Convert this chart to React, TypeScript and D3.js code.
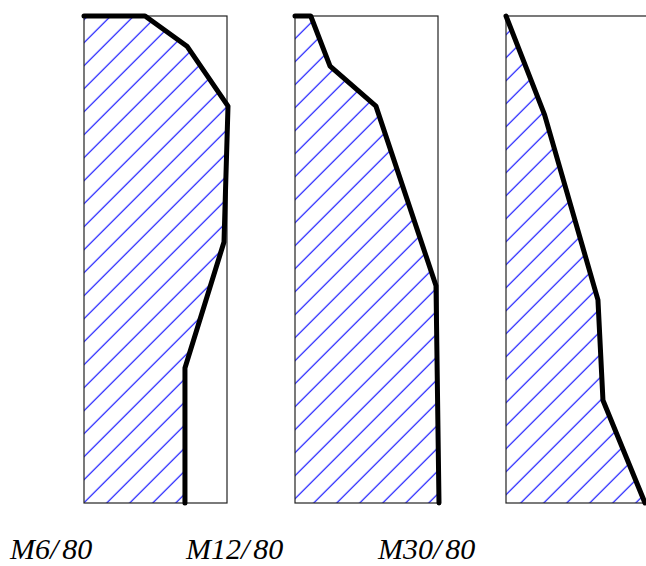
import React from 'react';
import * as d3 from 'd3';

// profile data: x = share of panel width (0-100), y = depth (0 top, 100 bottom)
const labels = ['M6', 'M12', 'M30'];
const suffix = '80';
const profileX = [
  [0, 42.7, 72.0, 100.7, 97.9, 70.6, 70.6],
  [0, 11, 24.5, 56.6, 98.6, 100.7],
  [0, 27, 64.3, 67.8, 97.2],
];
const profileY = [
  [0, 0, 6.2, 18.5, 46.4, 72.3, 100],
  [0, 0, 10.3, 18.5, 55.4, 100],
  [0, 20.3, 58.3, 78.9, 100],
];

const W = 646;
const H = 566;
const panelW = 143;
const top = 16;
const bottom = 503;

export default function App() {
  const panelX = d3.scaleLinear().domain([0, 2]).range([84, 506]);
  const y = d3.scaleLinear().domain([0, 100]).range([top, bottom]);
  const labelX = [10, 186, 378];

  return (
    <svg width={W} height={H} style={{ position: 'absolute', left: 0, top: 0, background: '#fff' }}>
      <defs>
        <pattern id="hatch" patternUnits="userSpaceOnUse" width={23} height={23}
          patternTransform="translate(11.7,0)">
          <path d="M-2,25 L25,-2" stroke="#0000ff" strokeWidth={1.1} />
          <path d="M-2,2 L2,-2 M21,25 L25,21" stroke="#0000ff" strokeWidth={1.1} />
        </pattern>
      </defs>
      {labels.map((lab, i) => {
        const x0 = panelX(i);
        const x = d3.scaleLinear().domain([0, 100]).range([x0, x0 + panelW]);
        const pts: [number, number][] = profileX[i].map((v, j) => [x(v), y(profileY[i][j])]);
        const line = d3.line();
        const area = d3.line()([[x(0), y(100)], [x(0), y(0)], ...pts, [x(0), y(100)]]);
        return (
          <g key={lab}>
            <path d={area + 'Z'} fill="url(#hatch)" stroke="none" />
            <rect x={x0} y={top} width={panelW} height={bottom - top}
              fill="none" stroke="#222" strokeWidth={1.2} />
            <path d={line(pts) || ''} fill="none" stroke="#000" strokeWidth={5}
              strokeLinecap="round" strokeLinejoin="round" />
            <text x={labelX[i]} y={559} fontFamily="'Liberation Serif', serif"
              fontStyle="italic" fontSize={30} fill="#000">
              {lab}/<tspan dx={4}>{suffix}</tspan>
            </text>
          </g>
        );
      })}
    </svg>
  );
}
